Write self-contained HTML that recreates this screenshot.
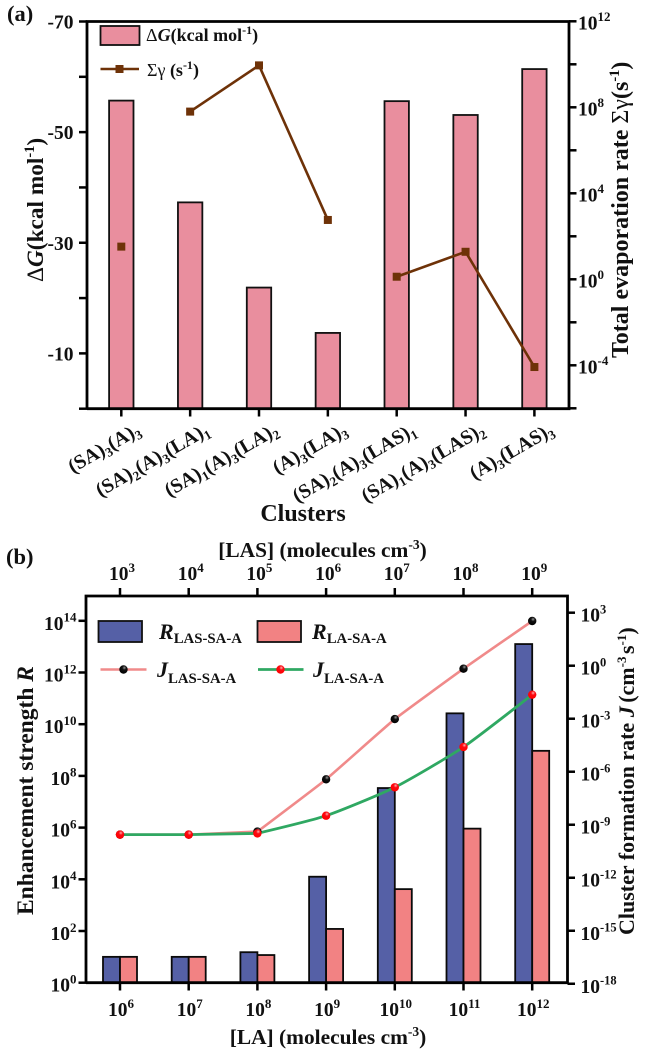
<!DOCTYPE html>
<html>
<head>
<meta charset="utf-8">
<title>Cluster free energy, evaporation rate and enhancement strength</title>
<style>
html,body{margin:0;padding:0;background:#fff;width:646px;height:1054px;overflow:hidden}
svg{display:block}
text{font-family:"Liberation Serif",serif;font-weight:bold;fill:#111}
.n{font-weight:normal}
.i{font-style:italic}
</style>
</head>
<body>
<svg id="fig" xmlns="http://www.w3.org/2000/svg" width="646" height="1054" viewBox="0 0 646 1054">
<defs>
<radialGradient id="ballBlack" cx="0.6" cy="0.3" r="0.7"><stop offset="0" stop-color="#999"/><stop offset="0.35" stop-color="#111"/><stop offset="1" stop-color="#000"/></radialGradient>
<radialGradient id="ballRed" cx="0.6" cy="0.3" r="0.7"><stop offset="0" stop-color="#ffb0b0"/><stop offset="0.35" stop-color="#fb0a12"/><stop offset="1" stop-color="#f00"/></radialGradient>
</defs>

<g id="panelA"></g>
<g id="panelB"></g>

<text x="7" y="21" font-size="22.500">(a)</text>
<text x="6" y="564" font-size="22.500">(b)</text>

<text transform="translate(43,282) rotate(-90)" font-size="23.300"><tspan class="n">Δ</tspan><tspan class="i">G</tspan>(kcal mol<tspan font-size="14.500" dy="-9">-1</tspan><tspan dy="9">)</tspan></text>
<text transform="translate(628,358) rotate(-90)" font-size="24">Total evaporation rate <tspan class="n">Σγ</tspan>(s<tspan font-size="14.500" dy="-9">-1</tspan><tspan dy="9">)</tspan></text>
<text x="303" y="521" text-anchor="middle" font-size="24">Clusters</text>

<text x="146" y="41" font-size="18"><tspan class="n">Δ</tspan><tspan class="i">G</tspan>(kcal mol<tspan font-size="12" dy="-7">-1</tspan><tspan dy="7">)</tspan></text>
<text x="147" y="76" font-size="18"><tspan class="n">Σγ</tspan> (s<tspan font-size="12" dy="-7">-1</tspan><tspan dy="7">)</tspan></text>

<text x="322.500" y="557" text-anchor="middle" font-size="21.400">[LAS] (molecules cm<tspan font-size="13.500" dy="-8">-3</tspan><tspan dy="8">)</tspan></text>
<text x="328" y="1044" text-anchor="middle" font-size="21.400">[LA] (molecules cm<tspan font-size="13.500" dy="-8">-3</tspan><tspan dy="8">)</tspan></text>
<text transform="translate(33,915) rotate(-90)" font-size="23.500">Enhancement strength <tspan class="i">R</tspan></text>
<text transform="translate(634,935) rotate(-90)" font-size="22">Cluster formation rate <tspan class="i">J</tspan><tspan dx="-2"> (cm</tspan><tspan font-size="13" dy="-8">-3</tspan><tspan dy="8" dx="-3"> s</tspan><tspan font-size="13" dy="-8">-1</tspan><tspan dy="8">)</tspan></text>

<text x="159" y="639" font-size="22"><tspan class="i">R</tspan><tspan font-size="14.800" dy="4">LAS-SA-A</tspan></text>
<text x="312" y="639" font-size="22"><tspan class="i">R</tspan><tspan font-size="14.800" dy="4">LA-SA-A</tspan></text>
<text x="157" y="677" font-size="22"><tspan class="i">J</tspan><tspan font-size="14.800" dy="6">LAS-SA-A</tspan></text>
<text x="313" y="677" font-size="22"><tspan class="i">J</tspan><tspan font-size="14.800" dy="6">LA-SA-A</tspan></text>
</svg>

<script>
// Panel (a) data
var clusterNames = ["(SA)3(A)3","(SA)2(A)3(LA)1","(SA)1(A)3(LA)2","(A)3(LA)3","(SA)2(A)3(LAS)1","(SA)1(A)3(LAS)2","(A)3(LAS)3"];
var deltaG = [-55.7,-37.3,-21.9,-13.7,-55.6,-53.1,-61.4];
var logEvapRate = [1.52,7.8,9.95,2.76,0.12,1.28,-4.08];
var evapLineBreakAfter = ["(SA)3(A)3","(A)3(LA)3"];
var deltaGTicks = [-70,-50,-30,-10];
var deltaGMinorTicks = [-60,-40,-20,0];
var evapTickExps = [12,8,4,0,-4];
var evapMinorTickExps = [10,6,2,-2,-6];

// Panel (b) data
var laExps = [6,7,8,9,10,11,12];
var lasExps = [3,4,5,6,7,8,9];
var logRLas = [1,1,1.18,4.1,7.53,10.42,13.1];
var logRLa = [1,1,1.07,2.08,3.62,5.96,8.97];
var logJLas = [-9.56,-9.56,-9.39,-6.43,-3.02,-0.17,2.53];
var logJLa = [-9.56,-9.56,-9.49,-8.49,-6.88,-4.6,-1.64];
var rTickExps = [14,12,10,8,6,4,2,0];
var jTickExps = [3,0,-3,-6,-9,-12,-15,-18];

var NS = "http://www.w3.org/2000/svg";
function el(parent, tag, attrs){
  var e = document.createElementNS(NS, tag);
  for (var k in attrs) e.setAttribute(k, attrs[k]);
  parent.appendChild(e);
  return e;
}
function powerLabel(parent, x, y, anchor, size, supSize, exp){
  var t = el(parent, "text", {x:x, y:y, "text-anchor":anchor, "font-size":size});
  t.textContent = "10";
  var s = el(t, "tspan", {"font-size":supSize, dy:-size*0.42});
  s.textContent = String(exp);
  return t;
}
function clusterLabel(parent, x, y, name){
  var t = el(parent, "text", {transform:"translate("+x+","+y+") rotate(-30)", "text-anchor":"end", "font-size":20});
  var parts = name.match(/\)\d|[^)]+|\)/g);
  var shift = 0;
  parts.forEach(function(p){
    var m = p.match(/^\)(\d)$/);
    if (m){
      var a = el(t, "tspan", {dy:-shift});
      a.textContent = ")";
      var b = el(t, "tspan", {"font-size":13, dy:4});
      b.textContent = m[1];
      shift = 4;
    } else {
      var c = el(t, "tspan", {dy:-shift});
      c.textContent = p;
      shift = 0;
    }
  });
  return t;
}
// Straight segments up to the kink point (index straightUntil), smooth afterwards.
function smoothPath(pts, k, straightUntil){
  var d = "M" + pts[0][0] + "," + pts[0][1];
  for (var i = 0; i < pts.length - 1; i++){
    var p0 = pts[Math.max(i-1,0)], p1 = pts[i], p2 = pts[i+1], p3 = pts[Math.min(i+2,pts.length-1)];
    if (i < straightUntil){
      d += "L" + p2[0] + "," + p2[1];
      continue;
    }
    var c1x = i === straightUntil ? p1[0] : p1[0]+(p2[0]-p0[0])*k;
    var c1y = i === straightUntil ? p1[1] : p1[1]+(p2[1]-p0[1])*k;
    d += "C" + c1x + "," + c1y + " " +
         (p2[0]-(p3[0]-p1[0])*k) + "," + (p2[1]-(p3[1]-p1[1])*k) + " " + p2[0] + "," + p2[1];
  }
  return d;
}

// ===== Panel (a) =====
var A = {l:87, r:569, t:21.5, b:408.7};
function ax(i){ return 121.3 + i*68.85; }
function ayG(v){ return A.b + v*(A.b-A.t)/70; }
function ayE(e){ return 279.3 - e*21.5; }
var pa = document.getElementById("panelA");

deltaG.forEach(function(v,i){
  var r = el(pa, "rect", {x:ax(i)-12.2, y:ayG(v), width:24.4, height:A.b-ayG(v), fill:"#E98E9E", stroke:"#111", "stroke-width":1.8});
  
  
});

var segA = [], allSegA = [];
logEvapRate.forEach(function(v,i){
  segA.push([ax(i), ayE(v)]);
  if (evapLineBreakAfter.indexOf(clusterNames[i]) >= 0 || i === logEvapRate.length-1){
    allSegA.push(segA);
    segA = [];
  }
});
allSegA.forEach(function(s){
  if (s.length > 1){
    var pl = el(pa, "polyline", {points:s.map(function(p){return p.join(",");}).join(" "), fill:"none", stroke:"#6E3208", "stroke-width":2.6});
    
    
  }
});
logEvapRate.forEach(function(v,i){
  var m = el(pa, "rect", {x:ax(i)-4, y:ayE(v)-4, width:8, height:8, fill:"#6E3208"});
  
  
});

var frameA = el(pa, "path", {d:"M"+A.l+","+A.b+"V"+A.t+"H"+A.r+"V"+A.b+"H"+A.l, fill:"none", stroke:"#000", "stroke-width":2.8});



deltaGTicks.concat(deltaGMinorTicks).forEach(function(v){
  var tk = el(pa, "line", {x1:79, x2:A.l, y1:ayG(v), y2:ayG(v), stroke:"#000", "stroke-width":2.5});
  
  
});
deltaGTicks.forEach(function(v){
  var t = el(pa, "text", {x:73.5, y:ayG(v)+7, "text-anchor":"end", "font-size":19.500});
  t.textContent = String(v);
  
  
});
evapTickExps.concat(evapMinorTickExps).forEach(function(e){
  var tk = el(pa, "line", {x1:A.r, x2:576.5, y1:ayE(e), y2:ayE(e), stroke:"#000", "stroke-width":2.5});
  
  
});
evapTickExps.forEach(function(e){
  var t = powerLabel(pa, 578, ayE(e)+8, "start", 19.500, 13, e);
  
  
});
clusterNames.forEach(function(n,i){
  var tk = el(pa, "line", {x1:ax(i), x2:ax(i), y1:A.b, y2:416.5, stroke:"#000", "stroke-width":2.5});
  
  
  var t = clusterLabel(pa, ax(i)+20.5, 433.5, n);
  
  
});

var lgA1 = el(pa, "rect", {x:100.5, y:26, width:39, height:19, fill:"#E98E9E", stroke:"#111", "stroke-width":1.8});


var lgA2 = el(pa, "line", {x1:100.5, x2:139, y1:69, y2:69, stroke:"#6E3208", "stroke-width":2.6});


var lgA3 = el(pa, "rect", {x:115.5, y:65, width:8, height:8, fill:"#6E3208"});



// ===== Panel (b) =====
var B = {l:86, r:567.5, t:596, b:982.7};
function bx(i){ return 120 + i*68.7; }
function byR(e){ return B.b - e*25.85; }
function byJ(e){ return 665.7 - e*17.67; }
var pb = document.getElementById("panelB");

logRLas.forEach(function(v,i){
  var r = el(pb, "rect", {x:bx(i)-17, y:byR(v), width:17, height:B.b-byR(v), fill:"#5560A6", stroke:"#0a0a0a", "stroke-width":1.8});
  
  
});
logRLa.forEach(function(v,i){
  var r = el(pb, "rect", {x:bx(i), y:byR(v), width:17, height:B.b-byR(v), fill:"#F28283", stroke:"#0a0a0a", "stroke-width":1.8});
  
  
});

var ptsLas = logJLas.map(function(v,i){ return [bx(i), byJ(v)]; });
var ptsLa = logJLa.map(function(v,i){ return [bx(i), byJ(v)]; });
var lineLas = el(pb, "path", {d:smoothPath(ptsLas,0.05,2), fill:"none", stroke:"#F08A8A", "stroke-width":2.6});


var lineLa = el(pb, "path", {d:smoothPath(ptsLa,0.1,2), fill:"none", stroke:"#2FA862", "stroke-width":2.8});


ptsLas.forEach(function(p){
  var c = el(pb, "circle", {cx:p[0], cy:p[1], r:4.2, fill:"url(#ballBlack)"});
  
  
});
ptsLa.forEach(function(p){
  var c = el(pb, "circle", {cx:p[0], cy:p[1], r:4.2, fill:"url(#ballRed)"});
  
  
});

var frameB = el(pb, "path", {d:"M"+B.l+","+B.b+"V"+B.t+"H"+B.r+"V"+B.b+"H"+B.l, fill:"none", stroke:"#000", "stroke-width":2.8});



rTickExps.forEach(function(e){
  var tk = el(pb, "line", {x1:78.5, x2:B.l, y1:byR(e), y2:byR(e), stroke:"#000", "stroke-width":2.5});
  
  
  var t = powerLabel(pb, 76.5, byR(e)+9, "end", 19.500, 13, e);
  
  
});
jTickExps.forEach(function(e){
  var tk = el(pb, "line", {x1:B.r, x2:575, y1:byJ(e), y2:byJ(e), stroke:"#000", "stroke-width":2.5});
  
  
  var t = powerLabel(pb, 580.5, byJ(e)+9, "start", 19.500, 12.500, e);
  
  
});
laExps.forEach(function(e,i){
  var tk = el(pb, "line", {x1:bx(i), x2:bx(i), y1:B.b, y2:990.5, stroke:"#000", "stroke-width":2.5});
  
  
  var t = powerLabel(pb, bx(i)+1, 1016, "middle", 19.500, 13, e);
  
  
});
lasExps.forEach(function(e,i){
  var tk = el(pb, "line", {x1:bx(i), x2:bx(i), y1:B.t, y2:588, stroke:"#000", "stroke-width":2.5});
  
  
  var t = powerLabel(pb, bx(i)+2, 580, "middle", 19.500, 13, e);
  
  
});

var lgB1 = el(pb, "rect", {x:98.5, y:621, width:43.5, height:21, fill:"#5560A6", stroke:"#111", "stroke-width":1.8});


var lgB2 = el(pb, "rect", {x:257.5, y:621, width:43.5, height:21, fill:"#F28283", stroke:"#111", "stroke-width":1.8});


var lgB3 = el(pb, "line", {x1:100.5, x2:146.5, y1:669.5, y2:669.5, stroke:"#F08A8A", "stroke-width":2.6});


var lgB4 = el(pb, "circle", {cx:123.5, cy:669.5, r:4.2, fill:"url(#ballBlack)"});


var lgB5 = el(pb, "line", {x1:258, x2:303.5, y1:669.5, y2:669.5, stroke:"#2FA862", "stroke-width":2.8});


var lgB6 = el(pb, "circle", {cx:280.5, cy:669.5, r:4.2, fill:"url(#ballRed)"});


</script>
</body>
</html>
